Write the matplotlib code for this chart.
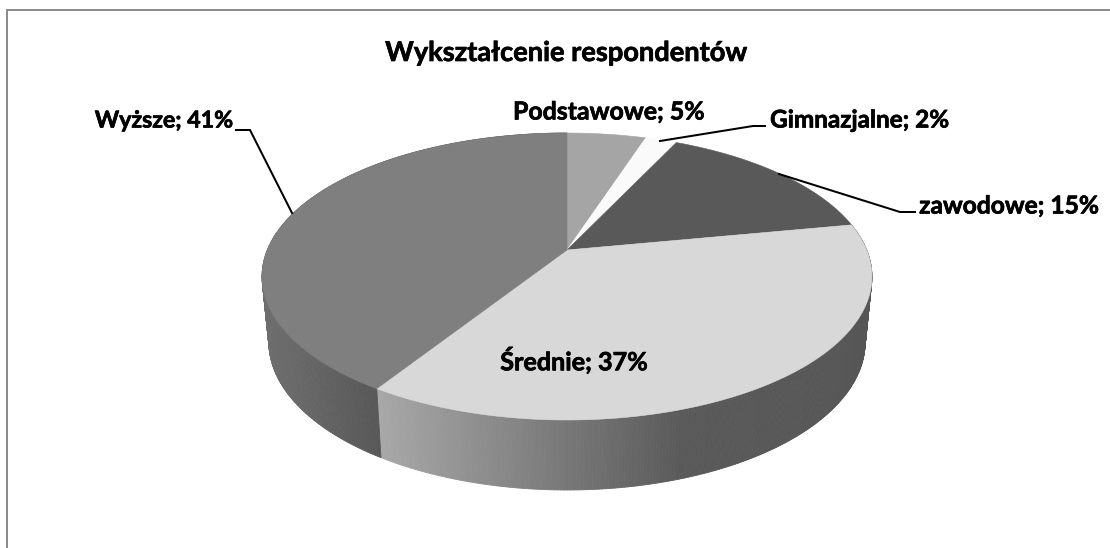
import numpy as np
import matplotlib
matplotlib.use("Agg")
import matplotlib.pyplot as plt
import matplotlib.patheffects as pe
from matplotlib.collections import PolyCollection

title = "Wykształcenie respondentów"
categories = ["Podstawowe", "Gimnazjalne", "zawodowe", "Średnie", "Wyższe"]
values = [5, 2, 15, 37, 41]
colors = ["#a5a5a5", "#fafafa", "#595959", "#d8d8d8", "#7f7f7f"]

W, H = 1110, 548
CX, CY, A, B, K = 567, 250, 299.7, 138.6, 0.1847
A2, B2, CY2 = 293, 143, 314.6
FONT = "Lato"
TITLE_SIZE = 19.6

label_pos = {
    "Podstawowe": (609, 112),
    "Gimnazjalne": (859.5, 120),
    "zawodowe": (1009.5, 206),
    "Średnie": (574, 361),
    "Wyższe": (164, 121),
}
label_size = {
    "Podstawowe": 17.9,
    "Gimnazjalne": 17.5,
    "zawodowe": 17.7,
    "Średnie": 18.1,
    "Wyższe": 16.7,
}
leaders = {
    "Gimnazjalne": ([660, 753, 765], [141, 126, 126]),
    "zawodowe": ([779, 900, 915], [174, 212, 212]),
    "Wyższe": ([292, 250, 236], [213, 130, 130]),
}


def ring(t, a, b, cy):
    w = 1 + K * np.cos(t)
    return CX + a * np.sin(t) / w, cy - b * np.cos(t) / w


fig = plt.figure(figsize=(W / 100, H / 100), dpi=100)
ax = fig.add_axes([0, 0, 1, 1])
ax.set_xlim(0, W)
ax.set_ylim(H, 0)
ax.axis("off")

# outer frame: only the left and top edges fall inside the picture
ax.plot([7, 7, W], [H, 10, 10], color="#8c8c8c", lw=1.45, solid_joinstyle="miter")

bounds = np.deg2rad(np.concatenate([[0], np.cumsum(values)]) / sum(values) * 360)

side_shades = {
    "Średnie": ([381, 680, 872], [0xa8, 0x5a, 0x56]),
    "Wyższe": ([261, 381], [0x70, 0x58]),
}
for name, (xp, gp) in side_shades.items():
    i = categories.index(name)
    ts = np.linspace(bounds[i], bounds[i + 1], 260)
    xa, ya = ring(ts, A, B, CY)
    xb, yb = ring(ts, A2, B2, CY2)
    quads, cols = [], []
    for j in range(len(ts) - 1):
        quads.append([(xa[j], ya[j]), (xa[j + 1], ya[j + 1]), (xb[j + 1], yb[j + 1]), (xb[j], yb[j])])
        g = np.interp((xb[j] + xb[j + 1]) / 2, xp, gp) / 255
        cols.append((g, g, g))
    ax.add_collection(PolyCollection(quads, facecolors=cols, edgecolors=cols, linewidths=0.6))

for i, c in enumerate(colors):
    ts = np.linspace(bounds[i], bounds[i + 1], 200)
    x, y = ring(ts, A, B, CY)
    ax.fill(np.r_[CX, x], np.r_[CY, y], facecolor=c, edgecolor=c, lw=0.4)

for name, (lx, ly) in leaders.items():
    ax.plot(lx, ly, color="black", lw=1.45, solid_joinstyle="miter")

heavier = [pe.withStroke(linewidth=0.5, foreground="black")]
for name, v in zip(categories, values):
    px, py = label_pos[name]
    ax.text(px, py, f"{name}; {v}%", ha="center", va="center", family=FONT,
            fontweight="bold", fontsize=label_size[name], color="black",
            path_effects=heavier)
ax.text(566, 53, title, ha="center", va="center", family=FONT,
        fontweight="bold", fontsize=TITLE_SIZE, color="black", path_effects=heavier)

fig.savefig("out.png", dpi=100, facecolor="white")
